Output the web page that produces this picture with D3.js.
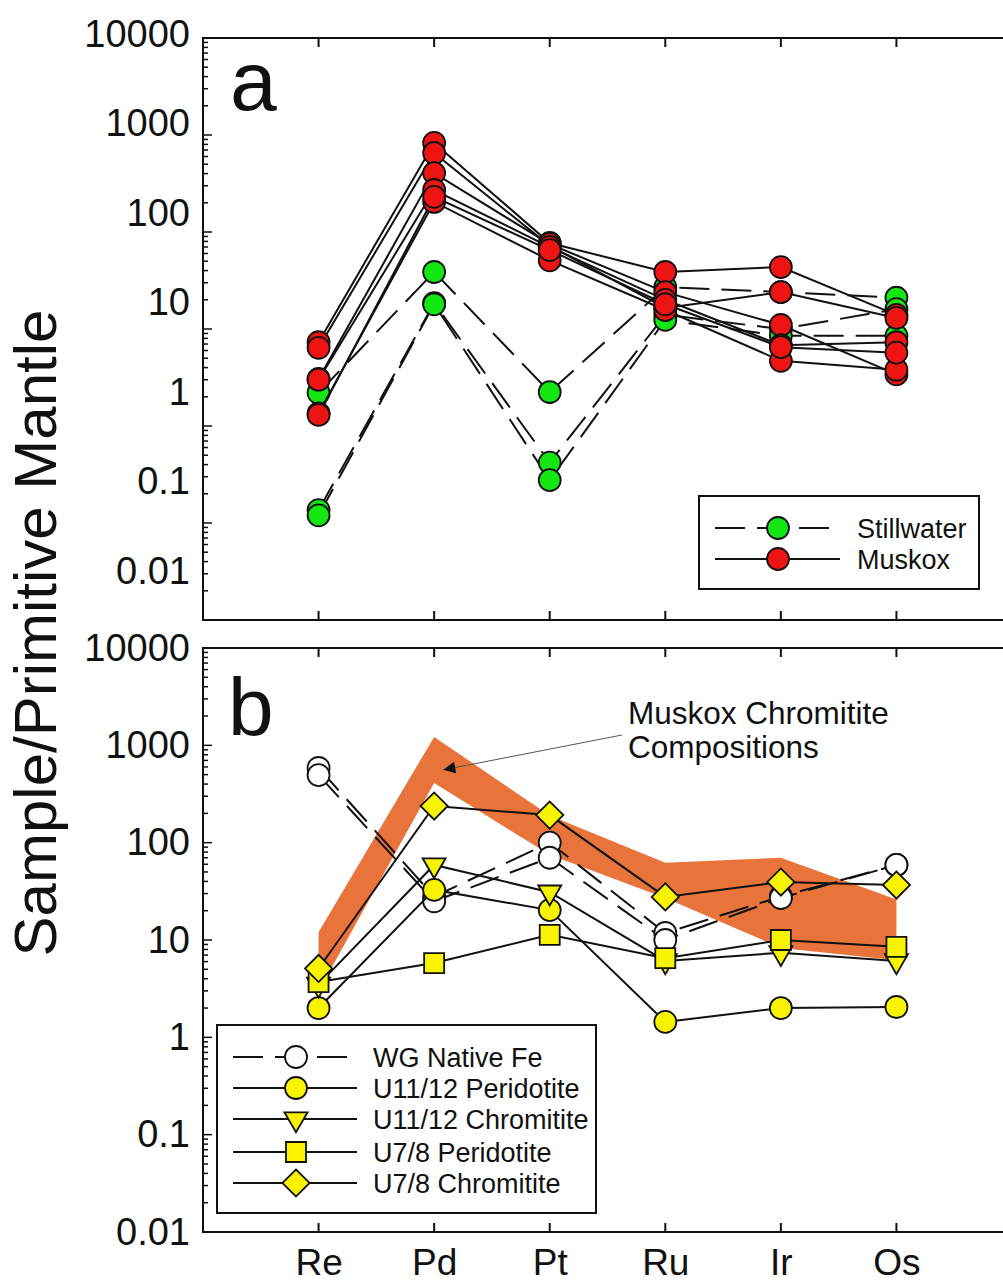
<!DOCTYPE html>
<html>
<head>
<meta charset="utf-8">
<script src="https://cdn.jsdelivr.net/npm/d3@7"></script>
<style>
  body { margin: 0; background: #fff; }
  svg text { font-family: "Liberation Sans", Arial, Helvetica, sans-serif; fill: #111; }
</style>
</head>
<body>
<svg id="chart" width="1003" height="1285"></svg>
<script>
// elements along the x axis
const elements = ["Re", "Pd", "Pt", "Ru", "Ir", "Os"];
const yTickValues = [0.01, 0.1, 1, 10, 100, 1000, 10000];

// panel a : one row per sample, values in element order
const stillwater = [
  [2.2, 38.7, 2.24, 27, 24, 21],
  [0.136, 18.5, 0.42, 14, 10, 16],
  [0.12, 18, 0.277, 12.4, 8.5, 8.5]
];
const muskox = [
  [7.3, 828, 77, 38.7, 43.5, 14],
  [6.4, 652, 72, 16.5, 24, 13],
  [3.05, 405, 75, 24, 11, 3.4],
  [3.0, 271, 70, 20, 6.8, 7.3],
  [1.35, 204, 51, 15.7, 4.7, 3.8],
  [1.3, 230, 65, 18, 6.5, 5.7]
];

// panel b
const wgNativeFe = [
  [585, 28, 100, 11.8, 28, 59],
  [495, 25, 70, 10, 27, 59]
];
const u1112Peridotite = [2.0, 32.7, 20.3, 1.44, 2.0, 2.05];
const u1112Chromitite = [3.5, 59, 31, 6.1, 7.4, 6.1];
const u78Peridotite = [3.7, 5.8, 11.3, 6.5, 10, 8.5];
const u78Chromitite = [5.1, 238, 192, 27.7, 39.4, 36.7];
// Muskox chromitite field (upper and lower edge)
const bandUpper = [12, 1220, 190, 62, 70, 26];
const bandLower = [3.0, 410, 75, 27, 8.3, 6.2];

const svg = d3.select("#chart");
const X0 = 203, X1 = 1012;
const x = d3.scaleLinear().domain([0, 7]).range([X0, X1]);
const yA = d3.scaleLog().domain([0.01, 10000]).range([620, 38]);
// the printed labels of panel a do not sit on their ticks in the original
const yAlab = d3.scaleLog().domain([0.01, 10000]).range([571, 34]);
const yB = d3.scaleLog().domain([0.01, 10000]).range([1232, 648]);

const GREEN = "#14e614", RED = "#ee1414", YELLOW = "#f8f400", ORANGE = "#e8743c";

function frame(y) {
  const [b, t] = y.range();
  const g = svg.append("g");
  g.append("rect").attr("x", X0).attr("y", t).attr("width", X1 - X0).attr("height", b - t)
    .attr("fill", "none").attr("stroke", "#111").attr("stroke-width", 2);
  // y ticks, inside
  y.ticks().forEach(v => {
    const major = Math.abs(Math.log10(v) - Math.round(Math.log10(v))) < 1e-6;
    const len = major ? 9 : 5;
    g.append("line").attr("x1", X0).attr("x2", X0 + len).attr("y1", y(v)).attr("y2", y(v))
      .attr("stroke", "#111").attr("stroke-width", 1.5);
    g.append("line").attr("x1", X1).attr("x2", X1 - len).attr("y1", y(v)).attr("y2", y(v))
      .attr("stroke", "#111").attr("stroke-width", 1.5);
  });
  // x ticks top and bottom
  elements.forEach((e, i) => {
    g.append("line").attr("x1", x(i + 1)).attr("x2", x(i + 1)).attr("y1", t).attr("y2", t + 9)
      .attr("stroke", "#111").attr("stroke-width", 2);
    g.append("line").attr("x1", x(i + 1)).attr("x2", x(i + 1)).attr("y1", b).attr("y2", b - 9)
      .attr("stroke", "#111").attr("stroke-width", 2);
  });
}

function yLabels(scale) {
  const ax = svg.append("g").attr("transform", "translate(" + (X0 - 13) + ",0)")
    .call(d3.axisLeft(scale).tickValues(yTickValues).tickSize(0).tickPadding(0)
      .tickFormat(d => String(d)));
  ax.select(".domain").remove();
  ax.selectAll("text").attr("font-size", 38).attr("font-family", null).attr("fill", "#111");
}

function symbolPath(kind) {
  if (kind === "circle") return d3.symbol(d3.symbolCircle, 380)();
  if (kind === "square") return d3.symbol(d3.symbolSquare, 400)();
  if (kind === "diamond") return d3.symbol(d3.symbolSquare, 370)();
  if (kind === "triangle") return d3.symbol(d3.symbolTriangle, 230)();
}
function symbolRotate(kind) {
  if (kind === "diamond") return 45;
  if (kind === "triangle") return 180;
  return 0;
}

const line = y => d3.line().x((d, i) => x(i + 1)).y(d => y(d));

function series(rows, y, opt) {
  const g = svg.append("g");
  rows.forEach(r => {
    g.append("path").attr("d", line(y)(r)).attr("fill", "none")
      .attr("stroke", "#111").attr("stroke-width", 2)
      .attr("stroke-dasharray", opt.dashed ? "30,12" : null);
  });
  rows.forEach(r => {
    g.selectAll(null).data(r).join("path")
      .attr("d", symbolPath(opt.shape))
      .attr("transform", (d, i) => "translate(" + x(i + 1) + "," + y(d) + ") rotate(" + symbolRotate(opt.shape) + ")")
      .attr("fill", opt.fill).attr("stroke", "#111").attr("stroke-width", 1.8);
  });
}

function legend(box, items) {
  const g = svg.append("g");
  g.append("rect").attr("x", box.x).attr("y", box.y).attr("width", box.w).attr("height", box.h)
    .attr("fill", "#fff").attr("stroke", "#111").attr("stroke-width", 2);
  items.forEach((it, k) => {
    const cy = box.rowY[k];
    g.append("line").attr("x1", box.lx0).attr("x2", box.lx1).attr("y1", cy).attr("y2", cy)
      .attr("stroke", "#111").attr("stroke-width", 2)
      .attr("stroke-dasharray", it.dashed ? "30,12" : null);
    g.append("path").attr("d", symbolPath(it.shape))
      .attr("transform", "translate(" + box.mx + "," + cy + ") rotate(" + symbolRotate(it.shape) + ")")
      .attr("fill", it.fill).attr("stroke", "#111").attr("stroke-width", 1.8);
    g.append("text").attr("x", box.tx).attr("y", cy).attr("dy", "0.36em")
      .attr("font-size", 27).text(it.label);
  });
}

// ---------- panel a ----------
frame(yA);
yLabels(yAlab);
series(stillwater, yA, { shape: "circle", fill: GREEN, dashed: true });
series(muskox, yA, { shape: "circle", fill: RED, dashed: false });
svg.append("text").attr("x", 230).attr("y", 110).attr("font-size", 84).text("a");
legend({ x: 699, y: 496, w: 280, h: 93, rowY: [528, 559], lx0: 715, lx1: 840, mx: 778, tx: 857 }, [
  { label: "Stillwater", shape: "circle", fill: GREEN, dashed: true },
  { label: "Muskox", shape: "circle", fill: RED, dashed: false }
]);

// ---------- panel b ----------
frame(yB);
yLabels(yB);
const band = d3.area().x((d, i) => x(i + 1)).y0((d, i) => yB(bandLower[i])).y1(d => yB(d));
svg.append("path").attr("d", band(bandUpper)).attr("fill", ORANGE).attr("stroke", "none");

// annotation arrow
svg.append("defs").append("marker").attr("id", "tip").attr("viewBox", "0 0 10 10")
  .attr("refX", 10).attr("refY", 5).attr("markerWidth", 16).attr("markerHeight", 12)
  .attr("markerUnits", "userSpaceOnUse").attr("orient", "auto")
  .append("path").attr("d", "M0,0L10,5L0,10Z").attr("fill", "#111");
svg.append("line").attr("x1", x(3.625)).attr("y1", yB(1276)).attr("x2", x(2.08)).attr("y2", yB(560))
  .attr("stroke", "#555").attr("stroke-width", 1).attr("marker-end", "url(#tip)");
const note = svg.append("text").attr("font-size", 31.5).attr("fill", "#222");
note.append("tspan").attr("x", 628).attr("y", 724).text("Muskox Chromitite");
note.append("tspan").attr("x", 628).attr("y", 758).text("Compositions");

series(wgNativeFe, yB, { shape: "circle", fill: "#fff", dashed: true });
series([u1112Peridotite], yB, { shape: "circle", fill: YELLOW });
series([u1112Chromitite], yB, { shape: "triangle", fill: YELLOW });
series([u78Peridotite], yB, { shape: "square", fill: YELLOW });
series([u78Chromitite], yB, { shape: "diamond", fill: YELLOW });
svg.append("text").attr("x", 228).attr("y", 735).attr("font-size", 82).text("b");

legend({ x: 217, y: 1025, w: 379, h: 188, rowY: [1057, 1088, 1119, 1152, 1183], lx0: 233, lx1: 357, mx: 296, tx: 373 }, [
  { label: "WG Native Fe", shape: "circle", fill: "#fff", dashed: true },
  { label: "U11/12 Peridotite", shape: "circle", fill: YELLOW },
  { label: "U11/12 Chromitite", shape: "triangle", fill: YELLOW },
  { label: "U7/8 Peridotite", shape: "square", fill: YELLOW },
  { label: "U7/8 Chromitite", shape: "diamond", fill: YELLOW }
]);

// x labels
const xa = svg.append("g").attr("transform", "translate(0,1232)")
  .call(d3.axisBottom(x).tickValues([1, 2, 3, 4, 5, 6]).tickSize(0).tickPadding(17)
    .tickFormat(i => elements[i - 1]));
xa.select(".domain").remove();
xa.selectAll("text").attr("font-size", 37).attr("font-family", null).attr("fill", "#111");

// y title
svg.append("text").attr("transform", "translate(56,633) rotate(-90)")
  .attr("text-anchor", "middle").attr("font-size", 60).text("Sample/Primitive Mantle");
</script>
</body>
</html>
